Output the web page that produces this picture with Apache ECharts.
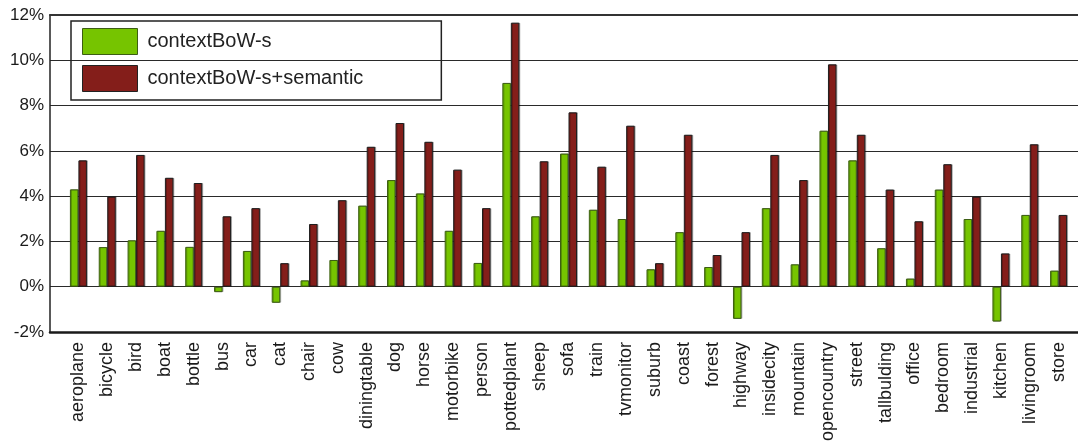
<!DOCTYPE html>
<html>
<head>
<meta charset="utf-8">
<script src="https://cdn.jsdelivr.net/npm/echarts@6/dist/echarts.min.js"></script>
<style>
html,body{margin:0;padding:0;background:#fff;}
#c{width:1078px;height:446px;}
</style>
</head>
<body>
<div id="c"></div>
<script>
var categories = ["aeroplane","bicycle","bird","boat","bottle","bus","car","cat","chair","cow","diningtable","dog","horse","motorbike","person","pottedplant","sheep","sofa","train","tvmonitor","suburb","coast","forest","highway","insidecity","mountain","opencountry","street","tallbulding","office","bedroom","industrial","kitchen","livingroom","store"];
var contextBoWs = [4.3,1.75,2.05,2.47,1.76,-0.24,1.58,-0.71,0.28,1.18,3.58,4.71,4.12,2.47,1.05,9.0,3.11,5.88,3.4,2.99,0.77,2.41,0.87,-1.42,3.47,0.99,6.89,5.58,1.7,0.36,4.29,2.99,-1.54,3.17,0.71];
var contextBoWsSemantic = [5.58,3.98,5.82,4.81,4.58,3.11,3.47,1.04,2.77,3.82,6.18,7.23,6.4,5.17,3.47,11.66,5.54,7.7,5.3,7.11,1.04,6.71,1.4,2.41,5.82,4.71,9.82,6.71,4.29,2.89,5.41,3.98,1.47,6.29,3.17];
var yTicks = {min:-2, max:12, interval:2};

var FONT = "'Liberation Sans', Arial, sans-serif";
var chart = echarts.init(document.getElementById('c'), null, {renderer:'canvas'});
var option = {
  backgroundColor:'#fff',
  animation:false,
  grid:[
    {left:50, right:-4, top:15, bottom:114},
    {left:64, right:5, top:15, bottom:114}
  ],
  legend:{
    orient:'vertical', left:71, top:21,
    itemWidth:55, itemHeight:26, itemGap:10,
    padding:[7,78,8,11],
    borderColor:'#222', borderWidth:1.5,
    textStyle:{fontFamily:FONT, fontSize:20, color:'#222', padding:[0,0,0,5]},
    data:[
      {name:'contextBoW-s', icon:'rect', itemStyle:{color:'#76C400', borderColor:'#3d5e14', borderWidth:1}},
      {name:'contextBoW-s+semantic', icon:'rect', itemStyle:{color:'#841E1A', borderColor:'#222', borderWidth:1}}
    ]
  },
  xAxis:[
    {gridIndex:0, type:'value', min:0, max:1, position:'bottom', axisLabel:{show:false}, axisTick:{show:false}, splitLine:{show:false},
     axisLine:{show:true, onZero:false, lineStyle:{color:'#1a1a1a', width:2.5}}},
    {gridIndex:0, type:'value', min:0, max:1, position:'top', axisLabel:{show:false}, axisTick:{show:false}, splitLine:{show:false},
     axisLine:{show:true, onZero:false, lineStyle:{color:'#333', width:2}}},
    {gridIndex:1, type:'category', data:categories, boundaryGap:true,
     axisLine:{show:false}, axisTick:{show:false},
     axisLabel:{rotate:90, margin:10, interval:0, padding:[10,0,0,0], fontFamily:FONT, fontSize:18, color:'#1a1a1a'}}
  ],
  yAxis:[
    {gridIndex:0, type:'value', min:yTicks.min, max:yTicks.max, interval:yTicks.interval,
     axisLine:{show:true, onZero:false, lineStyle:{color:'#222', width:1.5}}, axisTick:{show:false},
     axisLabel:{formatter:'{value}%', margin:6, fontFamily:FONT, fontSize:17, color:'#1a1a1a'},
     splitLine:{show:true, lineStyle:{color:'#2a2a2a', width:1}}},
    {gridIndex:1, type:'value', min:yTicks.min, max:yTicks.max, interval:yTicks.interval, show:false}
  ],
  series:[
    {name:'contextBoW-s', type:'bar', xAxisIndex:2, yAxisIndex:1, data:contextBoWs,
     barWidth:8.5, barGap:'0%',
     itemStyle:{color:'#76C400', borderColor:'#3d5e14', borderWidth:1, shadowColor:'rgba(0,0,0,0.25)', shadowOffsetX:1, shadowOffsetY:0, shadowBlur:0}},
    {name:'contextBoW-s+semantic', type:'bar', xAxisIndex:2, yAxisIndex:1, data:contextBoWsSemantic,
     barWidth:8.5, barGap:'0%',
     itemStyle:{color:'#841E1A', borderColor:'#1e1e1e', borderWidth:1, shadowColor:'rgba(0,0,0,0.25)', shadowOffsetX:1, shadowOffsetY:0, shadowBlur:0}}
  ]
};
chart.setOption(option);
</script>
</body>
</html>
